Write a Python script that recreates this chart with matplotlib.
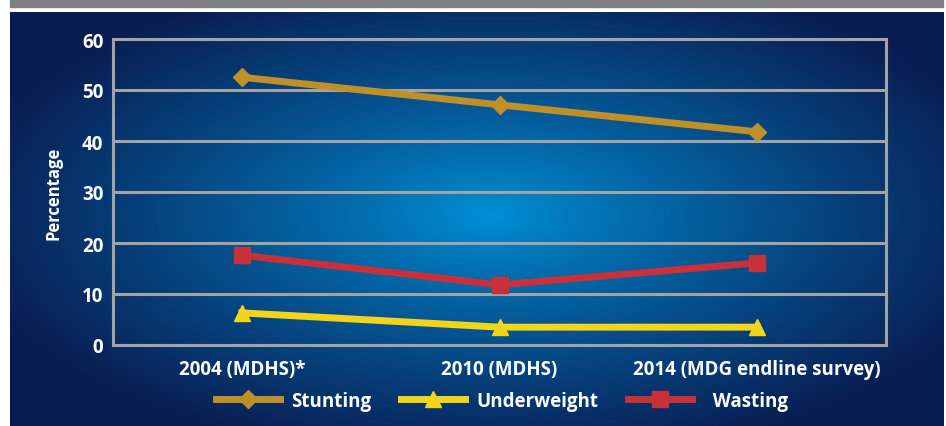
import numpy as np
import matplotlib.pyplot as plt
from matplotlib.patches import Rectangle
from matplotlib.lines import Line2D

plt.rcParams['font.family'] = ['Open Sans', 'DejaVu Sans']

# survey rounds and prevalence (%)
surveys = ['2004 (MDHS)*', '2010 (MDHS)', '2014 (MDG endline survey)']
stunting = [52.5, 47.1, 41.8]
underweight = [6.3, 3.5, 3.5]
wasting = [17.6, 11.8, 16.1]
yticks = [0, 10, 20, 30, 40, 50, 60]

W, H = 946, 427
fig = plt.figure(figsize=(W / 100, H / 100), dpi=100)
fig.patch.set_facecolor('white')

# grey strip along the top
fig.patches.append(Rectangle((10 / W, 1 - 8 / H), 933 / W, 8 / H,
                             transform=fig.transFigure, color='#808084', zorder=0))

# navy panel with a soft blue glow in the middle
bg = fig.add_axes([10 / W, 0, 933 / W, 414 / H])
bg.set_axis_off()
ny, nx = 207, 467
yy, xx = np.mgrid[0:ny, 0:nx]
px = xx * 2.0 + 10
py = yy * 2.0 + 13
d = np.sqrt(((px - 490) / 540) ** 2 + ((py - 215) / 250) ** 2)
t = np.clip(d, 0, 1) ** 0.85
c0 = np.array([0, 145, 215]) / 255
c1 = np.array([9, 29, 82]) / 255
img = c0[None, None, :] * (1 - t[..., None]) + c1[None, None, :] * t[..., None]
bg.imshow(img, aspect='auto', extent=(0, 1, 0, 1), origin='upper', interpolation='bilinear')
bg.set_xlim(0, 1)
bg.set_ylim(0, 1)

ax = fig.add_axes([113 / W, 1 - 346 / H, 773 / W, 306 / H])
ax.set_facecolor('none')
x = np.arange(len(surveys))

grid_c = '#a3a3a3'
ax.set_ylim(0, 60)
ax.set_xlim(-0.5, 2.5)
ax.set_yticks(yticks)
ax.yaxis.grid(True, color=grid_c, linewidth=2.2)
ax.set_axisbelow(True)
for s in ax.spines.values():
    s.set_color(grid_c)
    s.set_linewidth(2.2)
ax.tick_params(length=0, colors='white', labelsize=13.5, pad=7)
ax.tick_params(axis='x', pad=10)
ax.set_xticks(x)
ax.set_xticklabels(surveys, fontweight='bold', fontsize=13.5)
for lab in ax.get_yticklabels():
    lab.set_fontweight('bold')
ax.set_ylabel('Percentage', color='white', fontweight='bold', fontsize=12, labelpad=14)

lw = 5
ax.plot(x, stunting, color='#bf9028', lw=lw, marker='D', ms=9.5, zorder=3)
ax.plot(x, underweight, color='#f2d51a', lw=lw, marker='^', ms=12, zorder=3)
ax.plot(x, wasting, color='#c8303a', lw=lw, marker='s', ms=11.5, zorder=3)

handles = [
    Line2D([], [], color='#bf9028', lw=lw, marker='D', ms=9.5),
    Line2D([], [], color='#f2d51a', lw=lw, marker='^', ms=12),
    Line2D([], [], color='#c8303a', lw=lw, marker='s', ms=11.5),
]
leg = fig.legend(handles, ['Stunting', 'Underweight', '  Wasting'], ncol=3, frameon=False,
                 loc='center', bbox_to_anchor=(502 / W, 1 - 402 / H),
                 handlelength=3.4, handletextpad=0.6, columnspacing=1.6,
                 prop={'weight': 'bold', 'size': 13.5})
for txt in leg.get_texts():
    txt.set_color('white')

fig.savefig('out.png', dpi=100)
